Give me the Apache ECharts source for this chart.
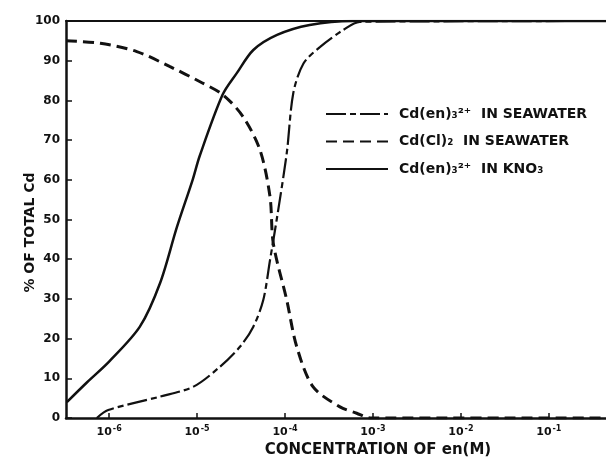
<!DOCTYPE html>
<html>
<head>
<meta charset="utf-8">
<script src="https://cdn.jsdelivr.net/npm/echarts@6/dist/echarts.min.js"></script>
<style>html,body{margin:0;padding:0;background:#fff}#c{width:606px;height:458px}</style>
</head>
<body>
<div id="c"></div>
<script>
// x values are log10 of en concentration (M)
const seaEnX = [-6.14,-6.01,-5.42,-5.04,-4.74,-4.51,-4.36,-4.247,-4.17,-4.094,-3.98,-3.906,-3.79,-3.6,-3.34,-3.15,-0.35];
const seaEnY = [0,2,5.4,7.9,12.9,18,23,29.7,39.8,50,66.7,81.8,89.3,93.5,97.7,99.8,100];
const cl2X = [-6.49,-6.10,-5.685,-5.307,-4.966,-4.705,-4.477,-4.284,-4.17,-4.133,-3.98,-3.867,-3.682,-3.375,-3.185,-3.03,-0.35];
const cl2Y = [95,94.4,92.3,88.5,84.7,81.4,75.9,67.5,55.7,44,29.7,18,7.9,2.8,1.2,0,0];
const kno3X = [-6.48,-6.25,-6.0,-5.65,-5.42,-5.23,-5.05,-4.97,-4.71,-4.55,-4.36,-4.09,-3.72,-3.23,-0.35];
const kno3Y = [4,9,14.2,23,34,48,60,66,81.4,86.8,92.7,96.5,99,100,100];
const xTicks = [-6,-5,-4,-3,-2,-1];
const seriesNames = ['Cd(en)\u2083\u00b2\u207a  IN SEAWATER','Cd(Cl)\u2082  IN SEAWATER','Cd(en)\u2083\u00b2\u207a  IN KNO\u2083'];

const pair = (xs, ys) => xs.map((x, i) => [x, ys[i]]);
const ink = '#111';
const font = 'DejaVu Sans, Verdana, sans-serif';
const chart = echarts.init(document.getElementById('c'));
chart.setOption({
  animation: false,
  grid: {left: 66, right: 0, top: 21, bottom: 40, containLabel: false, outerBoundsMode: 'none'},
  legend: {
    data: seriesNames,
    orient: 'vertical',
    left: 320,
    top: 101,
    itemWidth: 62,
    itemHeight: 16,
    itemGap: 11.5,
    itemStyle: {opacity: 0},
    textStyle: {fontFamily: font, fontSize: 14, fontWeight: 'bold', lineHeight: 16, color: ink, padding: [0,0,0,6]}
  },
  xAxis: [{
    type: 'value',
    min: -6.49,
    max: -0.35,
    position: 'bottom',
    name: 'CONCENTRATION OF en(M)',
    nameLocation: 'middle',
    nameGap: 25,
    nameMoveOverlap: false,
    nameTextStyle: {fontFamily: font, fontSize: 15, fontWeight: 'bold', color: ink, padding: [0,0,0,84]},
    axisLine: {lineStyle: {color: ink, width: 2.5}},
    axisTick: {inside: true, length: 5, customValues: xTicks, lineStyle: {color: ink, width: 1.5}},
    axisLabel: {
      customValues: xTicks,
      margin: 7,
      formatter: v => '{b|10}{s|' + v + '}',
      rich: {
        b: {fontFamily: font, fontSize: 11, fontWeight: 'bold', color: ink},
        s: {fontFamily: font, fontSize: 8, fontWeight: 'bold', color: ink, verticalAlign: 'top', padding: [0,0,6,1]}
      }
    },
    splitLine: {show: false}
  }, {
    type: 'value',
    min: -6.49,
    max: -0.35,
    position: 'top',
    axisLine: {lineStyle: {color: ink, width: 2}},
    axisTick: {show: false},
    axisLabel: {show: false},
    splitLine: {show: false}
  }],
  yAxis: {
    type: 'value',
    min: 0,
    max: 100,
    interval: 10,
    name: '% OF TOTAL Cd',
    nameLocation: 'middle',
    nameGap: 29,
    nameMoveOverlap: false,
    nameTextStyle: {fontFamily: font, fontSize: 14, fontWeight: 'bold', color: ink, padding: [0,26,0,0]},
    axisLine: {show: true, lineStyle: {color: ink, width: 2.5}},
    axisTick: {show: true, inside: true, length: 6, lineStyle: {color: ink, width: 1.5}},
    axisLabel: {fontFamily: font, fontSize: 12, fontWeight: 'bold', color: ink, margin: 6},
    splitLine: {show: false}
  },
  series: [{
    name: seriesNames[0],
    type: 'line',
    data: pair(seaEnX, seaEnY),
    symbol: 'none',
    smooth: 0.3,
    itemStyle: {color: ink},
    lineStyle: {color: ink, width: 2.2, type: [20,4,6,4]}
  }, {
    name: seriesNames[1],
    type: 'line',
    data: pair(cl2X, cl2Y),
    symbol: 'none',
    smooth: 0.3,
    itemStyle: {color: ink},
    lineStyle: {color: ink, width: 3, type: [11,6]}
  }, {
    name: seriesNames[2],
    type: 'line',
    data: pair(kno3X, kno3Y),
    symbol: 'none',
    smooth: 0.3,
    itemStyle: {color: ink},
    lineStyle: {color: ink, width: 2.5}
  }]
});
</script>
</body>
</html>
